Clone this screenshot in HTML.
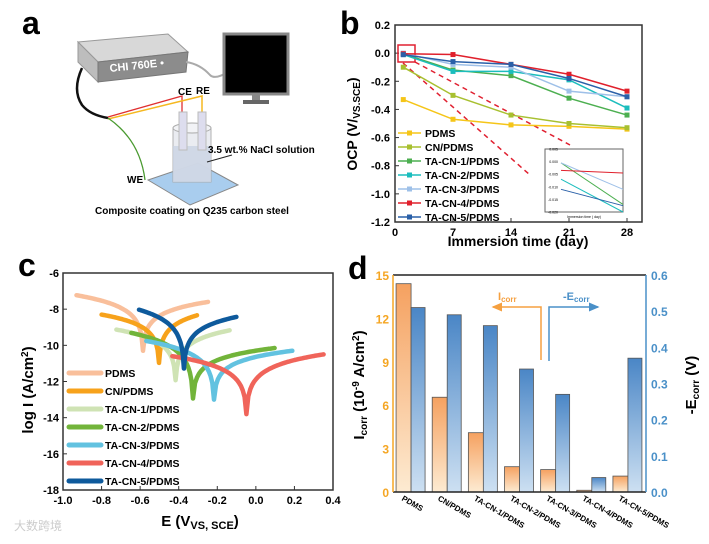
<!DOCTYPE html>
<html><head><meta charset="utf-8"><style>
html,body{margin:0;padding:0;background:#fff;}
svg{display:block;font-family:"Liberation Sans",Arial,sans-serif;}
.t{font-weight:bold;}
</style></head><body>
<svg id="fig" width="709" height="544" viewBox="0 0 709 544" xmlns="http://www.w3.org/2000/svg">
<defs>
<linearGradient id="gO" x1="0" y1="0" x2="0" y2="1"><stop offset="0" stop-color="#f5a160"/><stop offset="1" stop-color="#fdebd2"/></linearGradient>
<linearGradient id="gB" x1="0" y1="0" x2="0" y2="1"><stop offset="0" stop-color="#4a86c6"/><stop offset="1" stop-color="#cde0f2"/></linearGradient>
<marker id="arO" markerWidth="8" markerHeight="8" refX="6" refY="4" orient="auto"><path d="M0,1 L7,4 L0,7 z" fill="#f5a040"/></marker>
<marker id="arB" markerWidth="8" markerHeight="8" refX="6" refY="4" orient="auto"><path d="M0,1 L7,4 L0,7 z" fill="#4a90c8"/></marker>
</defs>

<!-- Panel labels -->
<text class="t" x="22" y="34" font-size="32">a</text>
<text class="t" x="340" y="34" font-size="32">b</text>
<text class="t" x="18" y="276" font-size="32">c</text>
<text class="t" x="348" y="279" font-size="32">d</text>

<!-- Panel a schematic -->
<g>
  <path d="M78,42 L168,34 L188,52 L98,62 Z" fill="#d8d8d8" stroke="#999"/>
  <path d="M78,42 L98,62 L98,82 L78,62 Z" fill="#bdbdbd" stroke="#999"/>
  <path d="M98,62 L188,52 L186,72 L98,82 Z" fill="#8c8c8c" stroke="#777"/>
  <text class="t" x="110" y="72" font-size="11" fill="#fff" transform="rotate(-6 110 72)">CHI 760E •</text>
  <path d="M186,62 Q200,64 210,75 Q215,80 228,72" fill="none" stroke="#aaa" stroke-width="2"/>
  <rect x="224" y="34" width="64" height="60" fill="#000" stroke="#888" stroke-width="3"/>
  <rect x="252" y="94" width="8" height="8" fill="#888"/>
  <rect x="243" y="100" width="26" height="4" fill="#666"/>
  <path d="M82,68 Q72,90 82,105 Q90,115 108,118" fill="none" stroke="#111" stroke-width="2.5"/>
  <path d="M108,117 L182,96 L182,116" fill="none" stroke="#e03030" stroke-width="1.3"/>
  <path d="M108,119 L202,96 L202,116" fill="none" stroke="#f5b820" stroke-width="1.5"/>
  <path d="M108,118 Q140,140 145,180" fill="none" stroke="#4a9a30" stroke-width="1.3"/>
  <path d="M148,180 L190,205 L238,185 L198,163 Z" fill="#a9cdee" stroke="#888"/>
  <rect x="173" y="128" width="38" height="54" fill="#e8eaf0" stroke="#aaa" opacity="0.9"/>
  <rect x="173" y="146" width="38" height="36" fill="#c9d3e4" opacity="0.8"/>
  <ellipse cx="192" cy="128" rx="19" ry="5" fill="#f2f3f6" stroke="#aaa"/>
  <rect x="179" y="112" width="8" height="38" fill="#dde" stroke="#bbb"/>
  <rect x="198" y="112" width="8" height="38" fill="#dde" stroke="#bbb"/>
  <line x1="207" y1="162" x2="232" y2="155" stroke="#222" stroke-width="1"/>
  <text class="t" x="178" y="95" font-size="10">CE</text>
  <text class="t" x="196" y="94" font-size="10">RE</text>
  <text class="t" x="127" y="183" font-size="10">WE</text>
  <text class="t" x="208" y="153" font-size="10">3.5 wt.% NaCl solution</text>
  <text class="t" x="95" y="214" font-size="10">Composite coating on Q235 carbon steel</text>
</g>

<g id="pb"></g>
<g id="pc"></g>
<g id="pd"></g>

<text x="14" y="530" font-size="12" fill="#ccc">大数跨境</text>
</svg>
<script>
// ===== Panel b data =====
const ocpDays = [1, 7, 14, 21, 28];
const ocpNames = ["PDMS","CN/PDMS","TA-CN-1/PDMS","TA-CN-2/PDMS","TA-CN-3/PDMS","TA-CN-4/PDMS","TA-CN-5/PDMS"];
const ocpColors = ["#f5c518","#a8c030","#4caf50","#1bbdbd","#9ec0e8","#e0202c","#2a60a8"];
const ocpPDMS = [-0.33, -0.47, -0.51, -0.52, -0.54];
const ocpCN = [-0.10, -0.30, -0.44, -0.50, -0.53];
const ocpTA1 = [-0.005, -0.12, -0.16, -0.32, -0.44];
const ocpTA2 = [-0.01, -0.13, -0.13, -0.19, -0.39];
const ocpTA3 = [0.0, -0.08, -0.10, -0.27, -0.31];
const ocpTA4 = [-0.004, -0.01, -0.08, -0.15, -0.27];
const ocpTA5 = [-0.011, -0.06, -0.08, -0.18, -0.31];
const ocpSeries = [ocpPDMS, ocpCN, ocpTA1, ocpTA2, ocpTA3, ocpTA4, ocpTA5];
const ocpYTicks = [0.2, 0.0, -0.2, -0.4, -0.6, -0.8, -1.0, -1.2];
const ocpXTicks = [0, 7, 14, 21, 28];
const insetSeries = [[-0.0005,-0.017],[-0.0005,-0.011],[-0.007,-0.022],[-0.011,-0.0175],[-0.0035,-0.0045]];
const insetColors = ["#4caf50","#9ec0e8","#1bbdbd","#2a60a8","#e0202c"];
const insetTicks = [0.005, 0.000, -0.005, -0.010, -0.015, -0.020];

// ===== Panel c data =====
const tafNames = ["PDMS","CN/PDMS","TA-CN-1/PDMS","TA-CN-2/PDMS","TA-CN-3/PDMS","TA-CN-4/PDMS","TA-CN-5/PDMS"];
const tafColors = ["#f9bf9b","#f7a21b","#cfe3b4","#72b43a","#62c2e0","#f0645a","#0e5a9c"];
const tafEcorr = [-0.585, -0.502, -0.416, -0.326, -0.217, -0.049, -0.373];
const tafMin = [-10.3, -10.97, -11.93, -12.94, -13.0, -13.8, -11.28];
const tafLeftE = [-0.93, -0.80, -0.723, -0.646, -0.568, -0.433, -0.606];
const tafLeftL = [-7.23, -8.3, -9.13, -9.31, -9.76, -10.6, -8.03];
const tafRightE = [-0.248, -0.305, -0.136, 0.097, 0.189, 0.351, -0.101];
const tafRightL = [-7.6, -8.34, -9.17, -10.15, -10.3, -10.5, -8.43];
const tafXTicks = [-1.0, -0.8, -0.6, -0.4, -0.2, 0.0, 0.2, 0.4];
const tafYTicks = [-6, -8, -10, -12, -14, -16, -18];

// ===== Panel d data =====
const barCats = ["PDMS","CN/PDMS","TA-CN-1/PDMS","TA-CN-2/PDMS","TA-CN-3/PDMS","TA-CN-4/PDMS","TA-CN-5/PDMS"];
const barIcorr = [14.4, 6.55, 4.1, 1.75, 1.55, 0.12, 1.1];
const barEcorr = [0.51, 0.49, 0.46, 0.34, 0.27, 0.04, 0.37];
const barLeftTicks = [0, 3, 6, 9, 12, 15];
const barRightTicks = [0.0, 0.1, 0.2, 0.3, 0.4, 0.5, 0.6];

const NS = "http://www.w3.org/2000/svg";
function mk(parent, tag, attrs, text) {
  const el = document.createElementNS(NS, tag);
  for (const k in attrs) el.setAttribute(k, attrs[k]);
  if (text !== undefined) el.textContent = text;
  parent.appendChild(el);
  return el;
}
function fmt(v, d) { const s = v.toFixed(d); return (s === "-0.0" || s === "-0.00") ? s.slice(1) : s; }

// ---------- Panel b ----------
(function(){
  const g = document.getElementById("pb");
  const L = 395, R = 642, T = 25, B = 222;
  const x = d => L + d * (627 - 395) / 28;
  const y = v => T + (0.2 - v) * (B - T) / 1.4;
  let e;
  e = mk(g, "rect", {x:L, y:T, width:R-L, height:B-T, fill:"none", stroke:"#333", "stroke-width":1.5});
  
  
  ocpYTicks.forEach(v => {
    const t = mk(g, "text", {x:L-5, y:y(v)+4, "font-size":11, "font-weight":"bold", "text-anchor":"end"}, fmt(v,1));
    
    
    const tk = mk(g, "line", {x1:L, x2:L+4, y1:y(v), y2:y(v), stroke:"#333"});
    
    
  });
  ocpXTicks.forEach(v => {
    const t = mk(g, "text", {x:x(v), y:B+14, "font-size":11, "font-weight":"bold", "text-anchor":"middle"}, v);
    
    
    const tk = mk(g, "line", {x1:x(v), x2:x(v), y1:B, y2:B-4, stroke:"#333"});
    
    
  });
  e = mk(g, "text", {x:518, y:246, "font-size":14, "font-weight":"bold", "text-anchor":"middle"}, "Immersion time (day)");
  
  
  e = mk(g, "text", {x:0, y:0, "font-size":14, "font-weight":"bold", "text-anchor":"middle", transform:"translate(357,124) rotate(-90)"});
  
  
  e.innerHTML = 'OCP (V/<tspan font-size="10" dy="3">VS.SCE</tspan><tspan dy="-3">)</tspan>';
  e = mk(g, "rect", {x:398, y:45, width:17, height:17, fill:"none", stroke:"#e02030", "stroke-width":1.5});
  
  
  e = mk(g, "line", {x1:403, y1:63, x2:530, y2:175, stroke:"#e02030", "stroke-width":1.5, "stroke-dasharray":"5,4"});
  
  
  e = mk(g, "line", {x1:415, y1:62, x2:570, y2:145, stroke:"#e02030", "stroke-width":1.5, "stroke-dasharray":"5,4"});
  
  
  ocpSeries.forEach((s, i) => {
    const pts = s.map((v, j) => x(ocpDays[j]) + "," + y(v)).join(" ");
    const pl = mk(g, "polyline", {points:pts, fill:"none", stroke:ocpColors[i], "stroke-width":1.5});
    
    
    s.forEach((v, j) => {
      const m = mk(g, "rect", {x:x(ocpDays[j])-2.5, y:y(v)-2.5, width:5, height:5, fill:ocpColors[i]});
      
      
    });
  });
  ocpNames.forEach((n, i) => {
    const ly = 133 + i * 14;
    const ln = mk(g, "line", {x1:398, x2:421, y1:ly, y2:ly, stroke:ocpColors[i], "stroke-width":1.5});
    
    
    const mrk = mk(g, "rect", {x:407, y:ly-2.5, width:5, height:5, fill:ocpColors[i]});
    
    
    const t = mk(g, "text", {x:425, y:ly+4, "font-size":10.5, "font-weight":"bold"}, n);
    
    
  });
  const iL = 545, iR = 623, iT = 149, iB = 212;
  const iy = v => iT + (0.005 - v) * (iB - iT) / 0.025;
  const ix = k => 561 + k * 62;
  e = mk(g, "rect", {x:iL, y:iT, width:iR-iL, height:iB-iT, fill:"#fff", stroke:"#666"});
  
  
  insetTicks.forEach(v => {
    const t = mk(g, "text", {x:iL+13, y:iy(v)+1.5, "font-size":3.5, "text-anchor":"end"}, v.toFixed(3));
    
    
  });
  insetSeries.forEach((s, i) => {
    const pl = mk(g, "polyline", {points:s.map((v,k)=>ix(k)+","+Math.min(iB,iy(v))).join(" "), fill:"none", stroke:insetColors[i], "stroke-width":1});
    
    
  });
  e = mk(g, "text", {x:584, y:iB+6, "font-size":3.5, "text-anchor":"middle"}, "Immersion time ( day)");
  
  
})();

// ---------- Panel c ----------
(function(){
  const g = document.getElementById("pc");
  const L = 63, R = 333, T = 273, B = 490;
  const x = v => L + (v + 1.0) * (R - L) / 1.4;
  const y = v => T + (-6 - v) * (B - T) / 12;
  let e;
  e = mk(g, "rect", {x:L, y:T, width:R-L, height:B-T, fill:"none", stroke:"#333", "stroke-width":1.5});
  
  
  tafYTicks.forEach(v => {
    const t = mk(g, "text", {x:L-4, y:y(v)+4, "font-size":11, "font-weight":"bold", "text-anchor":"end"}, v);
    
    
    const tk = mk(g, "line", {x1:L, x2:L+4, y1:y(v), y2:y(v), stroke:"#333"});
    
    
  });
  tafXTicks.forEach(v => {
    const t = mk(g, "text", {x:x(v), y:B+14, "font-size":11, "font-weight":"bold", "text-anchor":"middle"}, v.toFixed(1));
    
    
    const tk = mk(g, "line", {x1:x(v), x2:x(v), y1:B, y2:B-4, stroke:"#333"});
    
    
  });
  e = mk(g, "text", {x:200, y:526, "font-size":15, "font-weight":"bold", "text-anchor":"middle"});
  
  
  e.innerHTML = 'E (V<tspan font-size="11" dy="3">VS, SCE</tspan><tspan dy="-3">)</tspan>';
  e = mk(g, "text", {x:0, y:0, "font-size":15, "font-weight":"bold", "text-anchor":"middle", transform:"translate(33,390) rotate(-90)"});
  
  
  e.innerHTML = 'log I (A/cm<tspan font-size="10" dy="-5">2</tspan><tspan dy="5">)</tspan>';
  const eps = 0.003;
  tafEcorr.forEach((ec, i) => {
    const pts = [];
    const N = 40;
    const Dl = ec - tafLeftE[i], Dr = tafRightE[i] - ec;
    for (let k = 0; k <= N; k++) {
      const E = tafLeftE[i] + (ec - tafLeftE[i]) * k / N;
      const d = ec - E;
      const lv = tafMin[i] + (tafLeftL[i] - tafMin[i]) * Math.log10(1 + d/eps) / Math.log10(1 + Dl/eps);
      pts.push(x(E).toFixed(1) + "," + y(lv).toFixed(1));
    }
    for (let k = 1; k <= N; k++) {
      const E = ec + Dr * k / N;
      const d = E - ec;
      const lv = tafMin[i] + (tafRightL[i] - tafMin[i]) * Math.log10(1 + d/eps) / Math.log10(1 + Dr/eps);
      pts.push(x(E).toFixed(1) + "," + y(lv).toFixed(1));
    }
    const pl = mk(g, "polyline", {points:pts.join(" "), fill:"none", stroke:tafColors[i], "stroke-width":4.5, "stroke-linejoin":"round", "stroke-linecap":"round"});
    
    
  });
  tafNames.forEach((n, i) => {
    const ly = 373 + i * 18;
    const ln = mk(g, "line", {x1:69, x2:101, y1:ly, y2:ly, stroke:tafColors[i], "stroke-width":5, "stroke-linecap":"round"});
    
    
    const t = mk(g, "text", {x:105, y:ly+4, "font-size":10.5, "font-weight":"bold"}, n);
    
    
  });
})();

// ---------- Panel d ----------
(function(){
  const g = document.getElementById("pd");
  const L = 393, R = 646, T = 275, B = 492;
  const yl = v => B - v * (B - T) / 15;
  const yr = v => B - v * (B - T) / 0.6;
  const gw = (R - L) / barCats.length;
  let e;
  barCats.forEach((c, i) => {
    const cx = L + gw * (i + 0.5);
    const r1 = mk(g, "rect", {x:cx-15, y:yl(barIcorr[i]), width:15, height:B-yl(barIcorr[i]), fill:"url(#gO)", stroke:"#555", "stroke-width":0.8});
    
    
    const r2 = mk(g, "rect", {x:cx, y:yr(barEcorr[i]), width:14, height:B-yr(barEcorr[i]), fill:"url(#gB)", stroke:"#555", "stroke-width":0.8});
    
    
    const t = mk(g, "text", {x:0, y:0, "font-size":8, "font-weight":"bold", transform:"translate("+(cx-10)+",500) rotate(30)"}, c);
    
    
  });
  e = mk(g, "line", {x1:L, x2:R, y1:T, y2:T, stroke:"#222", "stroke-width":1.5});
  
  
  e = mk(g, "line", {x1:L, x2:R, y1:B, y2:B, stroke:"#222", "stroke-width":1.5});
  
  
  e = mk(g, "line", {x1:L, x2:L, y1:T, y2:B, stroke:"#f5a623", "stroke-width":1.5});
  
  
  e = mk(g, "line", {x1:R, x2:R, y1:T, y2:B, stroke:"#4a90c8", "stroke-width":1.5});
  
  
  barLeftTicks.forEach(v => {
    const t = mk(g, "text", {x:L-4, y:yl(v)+5, "font-size":12, "font-weight":"bold", fill:"#f5a623", "text-anchor":"end"}, v);
    
    
  });
  barRightTicks.forEach(v => {
    const t = mk(g, "text", {x:R+5, y:yr(v)+5, "font-size":12, "font-weight":"bold", fill:"#4a90c8"}, v.toFixed(1));
    
    
  });
  e = mk(g, "text", {x:0, y:0, "font-size":15, "font-weight":"bold", "text-anchor":"middle", transform:"translate(364,385) rotate(-90)"});
  
  
  e.innerHTML = 'I<tspan font-size="10" dy="3">corr</tspan><tspan dy="-3"> (10</tspan><tspan font-size="10" dy="-5">-9</tspan><tspan dy="5"> A/cm</tspan><tspan font-size="10" dy="-5">2</tspan><tspan dy="5">)</tspan>';
  e = mk(g, "text", {x:0, y:0, "font-size":15, "font-weight":"bold", "text-anchor":"middle", transform:"translate(696,385) rotate(-90)"});
  
  
  e.innerHTML = '-E<tspan font-size="10" dy="3">corr</tspan><tspan dy="-3"> (V)</tspan>';
  e = mk(g, "polyline", {points:"541,360 541,307 493,307", fill:"none", stroke:"#f5a040", "stroke-width":1.5, "marker-end":"url(#arO)"});
  
  
  e = mk(g, "polyline", {points:"549,361 549,307 598,307", fill:"none", stroke:"#4a90c8", "stroke-width":1.5, "marker-end":"url(#arB)"});
  
  
  e = mk(g, "text", {x:498, y:300, "font-size":11, "font-weight":"bold", fill:"#f5a040"});
  
  
  e.innerHTML = 'I<tspan font-size="8" dy="2">corr</tspan>';
  e = mk(g, "text", {x:563, y:300, "font-size":11, "font-weight":"bold", fill:"#4a90c8"});
  
  
  e.innerHTML = '-E<tspan font-size="8" dy="2">corr</tspan>';
})();
</script>
</body></html>
